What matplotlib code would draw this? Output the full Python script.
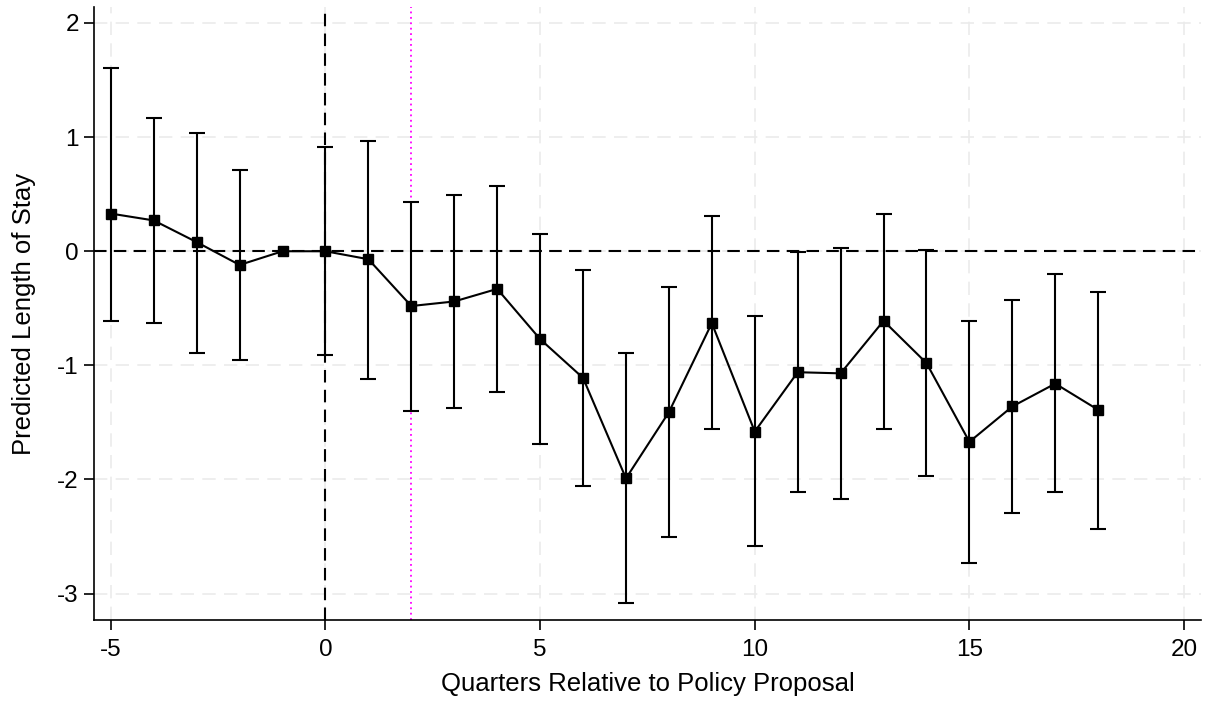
import matplotlib
matplotlib.use("Agg")
import matplotlib.pyplot as plt
import numpy as np

# quarters relative to the proposal, estimates and 95% CI bounds
quarters = [-5, -4, -3, -2, -1, 0, 1, 2, 3, 4, 5, 6, 7, 8, 9, 10, 11, 12, 13, 14, 15, 16, 17, 18]
estimate = [0.33, 0.27, 0.08, -0.12, 0.0, 0.0, -0.07, -0.48, -0.44, -0.33, -0.77, -1.11, -1.99, -1.41,
            -0.63, -1.58, -1.06, -1.07, -0.61, -0.98, -1.67, -1.36, -1.16, -1.39]
ci_upper = [1.61, 1.17, 1.04, 0.71, 0.0, 0.91, 0.97, 0.43, 0.49, 0.57, 0.15, -0.16, -0.89, -0.31,
            0.31, -0.57, -0.01, 0.03, 0.33, 0.01, -0.61, -0.43, -0.20, -0.36]
ci_lower = [-0.61, -0.63, -0.89, -0.95, 0.0, -0.91, -1.12, -1.40, -1.37, -1.23, -1.69, -2.06, -3.08, -2.50,
            -1.56, -2.58, -2.11, -2.17, -1.56, -1.97, -2.73, -2.29, -2.11, -2.43]

x_ticks = [-5, 0, 5, 10, 15, 20]
y_ticks = [-3, -2, -1, 0, 1, 2]

plt.rcParams['font.family'] = ['Liberation Sans', 'DejaVu Sans']
plt.rcParams['axes.unicode_minus'] = False

fig = plt.figure(figsize=(12.06, 7.02), dpi=100)
ax = fig.add_axes([0.078, 0.117, 0.9177, 0.873])

q = np.array(quarters)
est = np.array(estimate)
up = np.array(ci_upper)
lo = np.array(ci_lower)
has_ci = up != lo

ax.axvline(2, color='#ff00ff', linestyle=(0, (1, 2)), linewidth=1.3, zorder=1)
ax.axvline(0, color='black', linestyle=(0, (6, 3.5)), linewidth=1.5, zorder=2)
ax.axhline(0, color='black', linestyle=(0, (6, 3.5)), linewidth=1.5, zorder=2)

ax.errorbar(q[has_ci], est[has_ci], yerr=[est[has_ci] - lo[has_ci], up[has_ci] - est[has_ci]],
            fmt='none', ecolor='black', elinewidth=1.5, capsize=6, capthick=1.5, zorder=3)
ax.plot(q, est, color='black', linewidth=1.5, marker='s', markersize=7.5, zorder=4)

ax.set_xlim(-5.39, 20.39)
ax.set_ylim(-3.23, 2.14)
ax.set_xticks(x_ticks)
ax.set_yticks(y_ticks)
ax.grid(True, color='#ebebeb', linestyle=(0, (8, 5)), linewidth=1.2, zorder=0)
ax.set_axisbelow(True)

for side in ['top', 'right']:
    ax.spines[side].set_visible(False)
for side in ['left', 'bottom']:
    ax.spines[side].set_linewidth(1.2)
ax.tick_params(direction='out', length=7, width=1.2, labelsize=17.5, pad=4)
ax.tick_params(axis='x', pad=7)

ax.set_xlabel('Quarters Relative to Policy Proposal', fontsize=18.5, labelpad=8)
ax.set_ylabel('Predicted Length of Stay', fontsize=18.5, labelpad=15)

fig.savefig('out.png', dpi=100)
